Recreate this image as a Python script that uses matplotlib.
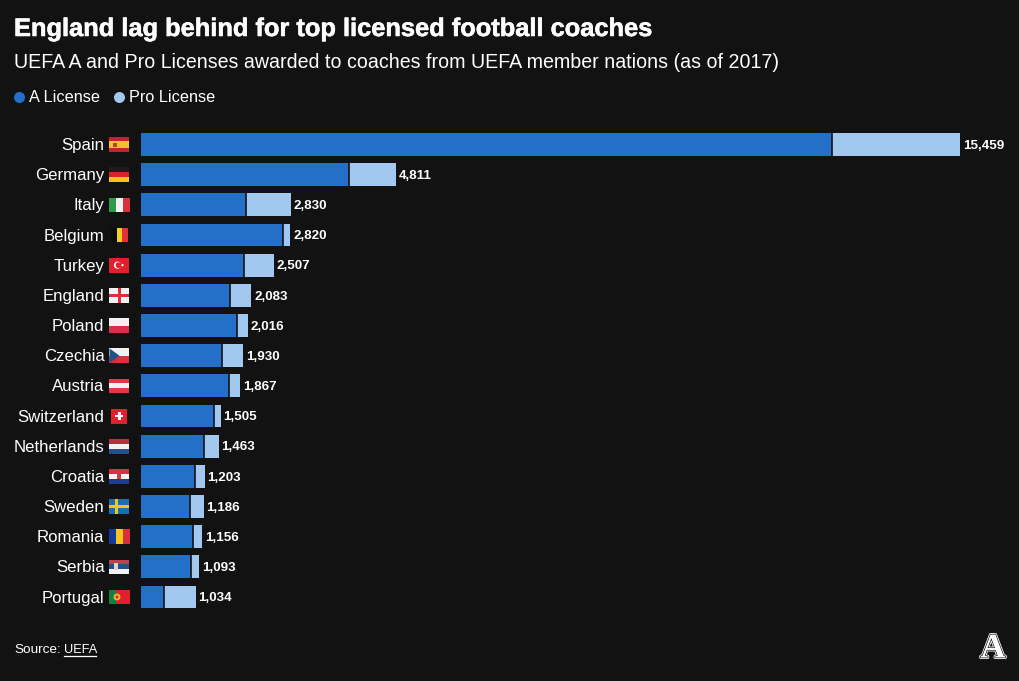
import matplotlib
matplotlib.use("Agg")
import matplotlib.pyplot as plt
import matplotlib.patheffects as pe
from matplotlib.patches import Rectangle, Circle, Polygon

# --- datos ---
paises = ["Spain", "Germany", "Italy", "Belgium", "Turkey", "England", "Poland", "Czechia",
          "Austria", "Switzerland", "Netherlands", "Croatia", "Sweden", "Romania", "Serbia", "Portugal"]
a_license = [13043, 3926, 1991, 2674, 1950, 1686, 1818, 1529, 1667, 1384, 1183, 1025, 925, 987, 944, 428]
pro_license = [2416, 885, 839, 146, 557, 397, 198, 401, 200, 121, 280, 178, 261, 169, 149, 606]
totales = [15459, 4811, 2830, 2820, 2507, 2083, 2016, 1930, 1867, 1505, 1463, 1203, 1186, 1156, 1093, 1034]

titulo = "England lag behind for top licensed football coaches"
subtitulo = "UEFA A and Pro Licenses awarded to coaches from UEFA member nations (as of 2017)"

FONDO = "#121212"
AZUL = "#2470c8"
CELESTE = "#a3c8ef"
FUENTE = "Liberation Sans"

W, H = 1020, 681
fig = plt.figure(figsize=(W / 100, H / 100), dpi=100, facecolor=FONDO)

# capa en pixeles para textos y banderas
capa = fig.add_axes([0, 0, 1, 1])
capa.set_xlim(0, W)
capa.set_ylim(H, 0)
capa.axis("off")

# barras
paso = (597 - 144.5) / 15
arriba = 144.5 - paso / 2
alto = paso * 16
ax = fig.add_axes([141 / W, 1 - (arriba + alto) / H, (960 - 141) / W, alto / H])
ax.set_facecolor("none")
y = list(range(len(paises)))
ax.barh(y, a_license, height=0.76, color=AZUL)
ax.barh(y, pro_license, left=a_license, height=0.76, color=CELESTE)
ax.vlines(a_license, [v - 0.38 for v in y], [v + 0.38 for v in y], color=FONDO, lw=1.2)
ax.set_xlim(0, 15459)
ax.set_ylim(15.5, -0.5)
ax.axis("off")
for i, t in enumerate(totales):
    ax.annotate(f"{t:,}", (t, i), xytext=(2.0, -0.9), textcoords="offset points", va="center",
                color="white", fontsize=9.6, fontweight="bold", family=FUENTE, annotation_clip=False)


# --- banderas (los emoji no existen en las fuentes instaladas) ---
def rect(x, yy, w, h, c):
    capa.add_patch(Rectangle((x, yy), w, h, color=c, lw=0))


def franjas_h(yc, colores, x=109.5, w=20, h=14.5):
    for n, c in enumerate(colores):
        rect(x, yc - h / 2 + n * h / len(colores), w, h / len(colores) + 0.1, c)


def franjas_v(yc, colores, x=109.5, w=20, h=14.5):
    for n, c in enumerate(colores):
        rect(x + n * w / len(colores), yc - h / 2, w / len(colores) + 0.1, h, c)


def bandera(nombre, yc):
    if nombre == "Spain":
        franjas_h(yc, ["#c8202c", "#f6c026", "#f6c026", "#c8202c"])
        rect(113, yc - 2, 4, 4, "#b0482a")
    elif nombre == "Germany":
        franjas_h(yc, ["#1c1c1c", "#d8222c", "#f5c518"])
    elif nombre == "Italy":
        franjas_v(yc, ["#2f9a4c", "#f2f2f2", "#d8303c"])
    elif nombre == "Belgium":
        franjas_v(yc, ["#0c0c0c", "#f5d020", "#e0303c"], x=111, w=17)
    elif nombre == "Turkey":
        franjas_h(yc, ["#e0202c"])
        capa.add_patch(Circle((117.5, yc), 3.6, color="white", lw=0))
        capa.add_patch(Circle((118.5, yc), 2.9, color="#e0202c", lw=0))
        capa.add_patch(Circle((122.5, yc), 1.1, color="white", lw=0))
    elif nombre == "England":
        franjas_h(yc, ["#f2f2f2"])
        rect(109.5, yc - 1.4, 20, 2.8, "#d8303c")
        rect(118, yc - 7.25, 3, 14.5, "#d8303c")
    elif nombre == "Poland":
        franjas_h(yc, ["#f2f2f2", "#d8304c"])
    elif nombre == "Czechia":
        franjas_h(yc, ["#f2f2f2", "#d8303c"])
        capa.add_patch(Polygon([(109.5, yc - 7.25), (119.5, yc), (109.5, yc + 7.25)], color="#20508c", lw=0))
    elif nombre == "Austria":
        franjas_h(yc, ["#e0384a", "#f2f2f2", "#e0384a"])
    elif nombre == "Switzerland":
        rect(111.5, yc - 7.5, 15.5, 15, "#e0202c")
        rect(115.5, yc - 1.3, 7.5, 2.6, "white")
        rect(118, yc - 3.8, 2.6, 7.6, "white")
    elif nombre == "Netherlands":
        franjas_h(yc, ["#b8303c", "#f2f2f2", "#24508c"])
    elif nombre == "Croatia":
        franjas_h(yc, ["#d8303c", "#f2f2f2", "#1c3c8c"])
        rect(117.5, yc - 3, 4, 5.5, "#c84040")
    elif nombre == "Sweden":
        franjas_h(yc, ["#1c6cb0"])
        rect(109.5, yc - 1.5, 20, 3, "#f5c518")
        rect(115.5, yc - 7.25, 3, 14.5, "#f5c518")
    elif nombre == "Romania":
        franjas_v(yc, ["#14389c", "#f5c518", "#d8303c"])
    elif nombre == "Serbia":
        franjas_h(yc, ["#c04050", "#24508c", "#f2f2f2"])
        rect(114.5, yc - 4, 4, 7, "#e8d0d0")
    elif nombre == "Portugal":
        franjas_v(yc, ["#14803c", "#e0202c", "#e0202c"], w=20)
        capa.add_patch(Circle((117, yc), 3.4, color="#e8c030", lw=0))
        capa.add_patch(Circle((117, yc), 1.6, color="#d8303c", lw=0))


for i, p in enumerate(paises):
    yc = 144.5 + i * paso
    capa.text(104.5, yc + 1, p, ha="right", va="center", color="white", fontsize=12.1, family=FUENTE)
    bandera(p, yc)

# titulos
capa.text(14, 29, titulo, va="center", color="white", fontsize=18.3, fontweight="bold", family=FUENTE,
          path_effects=[pe.withStroke(linewidth=0.4, foreground="white")])
capa.text(14, 62, subtitulo, va="center", color="white", fontsize=14.1, family=FUENTE)

# leyenda
capa.add_patch(Circle((19.5, 97.5), 5.5, color=AZUL, lw=0))
capa.text(29, 97.5, "A License", va="center", color="white", fontsize=11.7, family=FUENTE)
capa.add_patch(Circle((119.5, 97.5), 5.5, color=CELESTE, lw=0))
capa.text(129, 97.5, "Pro License", va="center", color="white", fontsize=11.7, family=FUENTE)

# fuente
capa.text(14, 650, "Source:", va="center", color="white", fontsize=9.7, family=FUENTE)
capa.text(64, 650, "UEFA", va="center", color="white", fontsize=9.2, family=FUENTE)
capa.plot([64, 96], [655.5, 655.5], color="white", lw=0.9)

# logo
capa.text(993, 649, "A", ha="center", va="center", color="white", fontsize=25, fontweight="bold",
          family="Liberation Serif",
          path_effects=[pe.Stroke(linewidth=2.2, foreground="white"),
                        pe.Stroke(linewidth=1.0, foreground=FONDO), pe.Normal()])

fig.savefig("out.png", dpi=100, facecolor=FONDO)
